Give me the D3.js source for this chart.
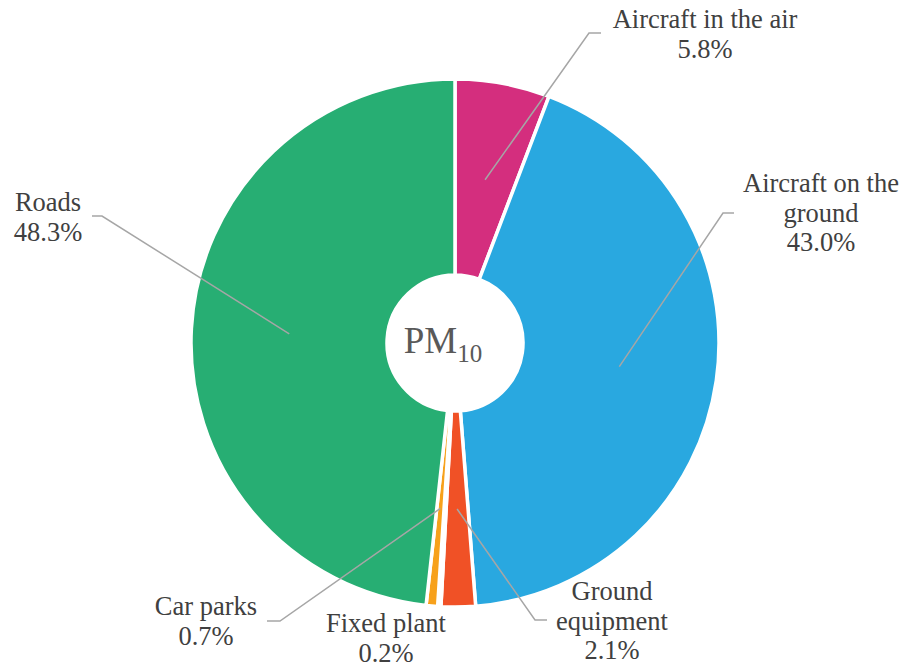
<!DOCTYPE html>
<html>
<head>
<meta charset="utf-8">
<script src="https://cdn.jsdelivr.net/npm/d3@7"></script>
<style>
  html, body { margin: 0; padding: 0; background: #ffffff; }
  svg { display: block; }
  svg text { font-family: "Liberation Serif", "Times New Roman", Tinos, "DejaVu Serif", serif; }
</style>
</head>
<body>
<svg id="chart" width="905" height="670"></svg>
<script>
// ---- Data ----
const categories = ["Aircraft in the air", "Aircraft on the ground", "Ground equipment", "Fixed plant", "Car parks", "Roads"];
const values = [5.8, 43.0, 2.1, 0.2, 0.7, 48.3];
const valueLabels = ["5.8%", "43.0%", "2.1%", "0.2%", "0.7%", "48.3%"];
const colors = ["#D42E7E", "#29A8E0", "#F05126", "#8DC63F", "#F7A11B", "#27AE73"];

// ---- Label layout (name lines, text centre, first baseline, leader elbow / end) ----
const labelLayout = [
  { lines: ["Aircraft in the air"], cx: 705, y: 28, elbow: [589, 33], end: [601, 33] },
  { lines: ["Aircraft on the", "ground"], cx: 821, y: 192, elbow: [723, 213], end: [734, 213] },
  { lines: ["Ground", "equipment"], cx: 612, y: 600, elbow: [535, 620], end: [547, 620] },
  { lines: ["Fixed plant"], cx: 386, y: 632, elbow: null, end: null },
  { lines: ["Car parks"], cx: 206, y: 615, elbow: [280, 621], end: [267, 621] },
  { lines: ["Roads"], cx: 48, y: 211, elbow: [102, 216], end: [92, 216] }
];

const svg = d3.select("#chart");
const cx = 455, cy = 343, outerR = 264, innerR = 68;
const g = svg.append("g").attr("transform", `translate(${cx},${cy})`);

const data = categories.map((c, i) => ({ name: c, value: values[i], label: valueLabels[i], color: colors[i], layout: labelLayout[i] }));

const pie = d3.pie().sort(null).value(d => d.value);
const arc = d3.arc().innerRadius(innerR).outerRadius(outerR);
const arcs = pie(data);

g.selectAll("path.slice")
  .data(arcs)
  .join("path")
  .attr("class", "slice")
  .attr("d", arc)
  .attr("fill", d => d.data.color)
  .attr("stroke", "#ffffff")
  .attr("stroke-width", 3.5)
  .attr("stroke-linejoin", "miter");

// Leader lines
const lineGen = d3.line();
arcs.forEach(d => {
  const L = d.data.layout;
  if (!L.elbow) return;
  const c = arc.centroid(d);
  const p0 = [c[0] + cx, c[1] + cy];
  svg.append("path")
    .attr("d", lineGen([p0, L.elbow, L.end]))
    .attr("fill", "none")
    .attr("stroke", "#A6A6A6")
    .attr("stroke-width", 1.5);
});

// Labels
const lineH = 29.5;
arcs.forEach(d => {
  const L = d.data.layout;
  const t = svg.append("text")
    .attr("text-anchor", "middle")
    .style("font-size", "26.5px")
    .attr("fill", "#404040");
  const all = L.lines.concat([d.data.label]);
  all.forEach((s, i) => {
    t.append("tspan").attr("x", L.cx).attr("y", L.y + i * lineH).text(s);
  });
});

// Centre title PM10
const title = svg.append("text")
  .attr("x", 443)
  .attr("y", 353)
  .attr("text-anchor", "middle")
  .style("font-size", "37px")
  .attr("fill", "#595959");
title.append("tspan").text("PM");
title.append("tspan").style("font-size", "25px").attr("dy", 9).text("10");
</script>
</body>
</html>
